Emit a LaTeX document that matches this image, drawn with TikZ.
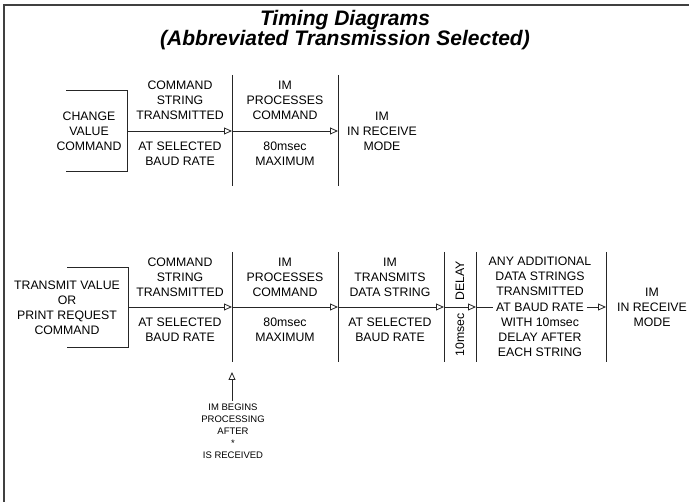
\documentclass[tikz,border=0pt]{standalone}
\usepackage{fontspec}
\setmainfont{Liberation Sans}
\usepackage{tikz}
\usetikzlibrary{arrows.meta}

\begin{document}
\begin{tikzpicture}[x=1pt,y=-1pt,
			thin/.style={line width=0.8pt,draw=black!85},
			sig/.style={thin,-{Triangle[open,length=8pt,width=7pt]}},
			lbl/.style={font=\fontsize{12.3}{15}\selectfont,align=center,inner sep=0pt},
			note/.style={font=\fontsize{9.5}{12}\selectfont,align=center,inner sep=0pt},
			head/.style={font=\fontsize{21}{21}\selectfont\bfseries\itshape,anchor=base,inner sep=0pt},
			]
			\useasboundingbox (0,0) rectangle (689,502);
			
			% frame (only top and left edges show)
			\draw[line width=1.6pt,black!75] (4,502) -- (4,5) -- (689,5);
			
			% title
			\node[head] (title) at (345,26) {Timing Diagrams};
			\node[head] (subtitle) at (345,46) {(Abbreviated Transmission Selected)};
			
			% ---- first diagram: change value ----
			\def\ya{131}
			\coordinate (a0) at (127,\ya);
			\coordinate (a1) at (232,\ya);
			\coordinate (a2) at (338,\ya);
			\draw[thin] (66,90) -- (127,90) -- (127,171) -- (66,171);
			\foreach \x in {232,338} \draw[thin] (\x,75) -- (\x,186);
			\draw[sig] (a0) -- (a1);
			\draw[sig] (a1) -- (a2);
			
			\node[lbl] (chg) at (89,\ya) {CHANGE\\VALUE\\COMMAND};
			\node[lbl] (cmdA) at (180,100) {COMMAND\\STRING\\TRANSMITTED};
			\node[lbl] (baudA) at (180,153.5) {AT SELECTED\\BAUD RATE};
			\node[lbl] (procA) at (285,100) {IM\\PROCESSES\\COMMAND};
			\node[lbl] (maxA) at (285,153.5) {80msec\\MAXIMUM};
			\node[lbl] (rcvA) at (382,\ya) {IM\\IN RECEIVE\\MODE};
			
			% ---- second diagram: transmit value / print request ----
			\def\yb{307}
			\coordinate (b0) at (128,\yb);
			\coordinate (b1) at (232,\yb);
			\coordinate (b2) at (338,\yb);
			\coordinate (b3) at (444,\yb);
			\coordinate (b4) at (476,\yb);
			\coordinate (b5) at (606,\yb);
			\draw[thin] (67,267) -- (128,267) -- (128,347) -- (67,347);
			\foreach \x in {232,338,444,476,606} \draw[thin] (\x,252) -- (\x,362);
			
			\node[lbl] (xmt) at (67,308) {TRANSMIT VALUE\\OR\\PRINT REQUEST\\COMMAND};
			\node[lbl] (cmdB) at (180,277) {COMMAND\\STRING\\TRANSMITTED};
			\node[lbl] (baudB) at (180,329.5) {AT SELECTED\\BAUD RATE};
			\node[lbl] (procB) at (285,277) {IM\\PROCESSES\\COMMAND};
			\node[lbl] (maxB) at (285,329.5) {80msec\\MAXIMUM};
			\node[lbl] (dat) at (390,277) {IM\\TRANSMITS\\DATA STRING};
			\node[lbl] (baudC) at (390,329.5) {AT SELECTED\\BAUD RATE};
			
			% delay column, text turned up
			\node[lbl,rotate=90] (dly) at (460,281) {DELAY};
			\node[lbl,rotate=90] (ten) at (460,335) {10msec};
			
			% additional strings, middle line sits on the signal
			\node[lbl] (any) at (540,276) {ANY ADDITIONAL\\DATA STRINGS\\TRANSMITTED};
			\node[lbl,inner xsep=3pt] (rate) at (540,\yb) {AT BAUD RATE};
			\node[lbl] (with) at (540,337.5) {WITH 10msec\\DELAY AFTER\\EACH STRING};
			\node[lbl] (rcvB) at (652,\yb) {IM\\IN RECEIVE\\MODE};
			
			\draw[sig] (b0) -- (b1);
			\draw[sig] (b1) -- (b2);
			\draw[sig] (b2) -- (b3);
			\draw[sig] (b3) -- (b4);
			\draw[thin] (b4) -- (rate.west);
			\draw[sig] (rate.east) -- (b5);
			
			% pointer to start of processing
			\coordinate (p0) at (232,401);
			\coordinate (p1) at (232,372);
			\draw[sig] (p0) -- (p1);
			\node[note] (begin) at (233,431) {IM BEGINS\\PROCESSING\\AFTER\\*\\IS RECEIVED};
		\end{tikzpicture}
\end{document}
